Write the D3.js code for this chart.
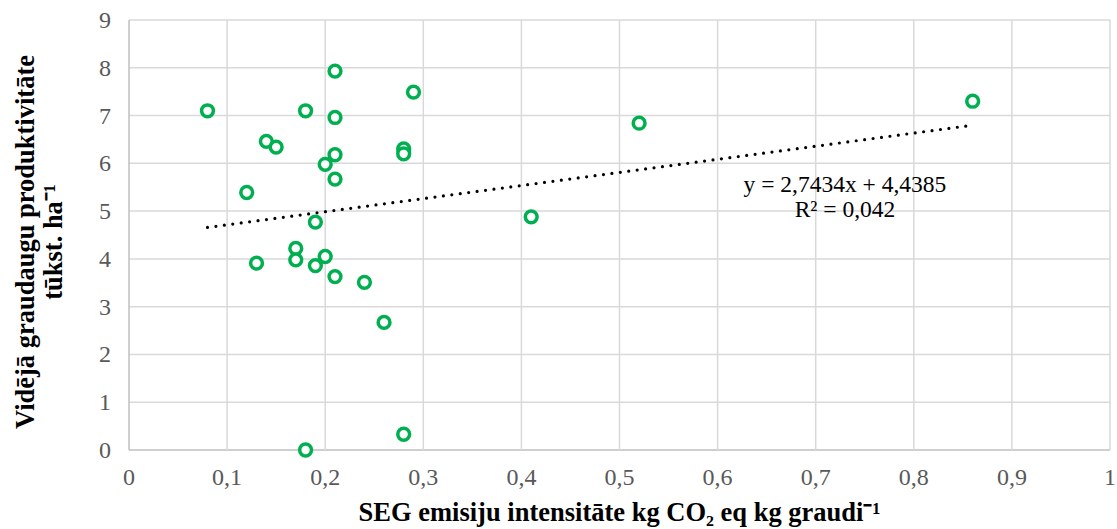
<!DOCTYPE html>
<html>
<head>
<meta charset="utf-8">
<script src="https://cdn.jsdelivr.net/npm/d3@7"></script>
<style>
  body { margin: 0; background: #fff; }
  svg { display: block; font-family: "Liberation Serif", "Times New Roman", serif; }
</style>
</head>
<body>
<svg id="chart" width="1117" height="529"></svg>
<script>
// emission intensity (kg CO2 eq / kg grain)
var xValues = [0.08, 0.12, 0.13, 0.14, 0.15, 0.17, 0.17, 0.18, 0.18, 0.19, 0.19, 0.20, 0.20,
               0.21, 0.21, 0.21, 0.21, 0.21, 0.24, 0.26, 0.28, 0.28, 0.28, 0.29, 0.41, 0.52, 0.86];
// average grain yield (thousand t / ha)
var yValues = [7.10, 5.39, 3.91, 6.46, 6.34, 4.22, 3.98, 7.10, 0.00, 4.77, 3.86, 5.98, 4.05,
               7.93, 6.96, 6.18, 5.67, 3.63, 3.51, 2.67, 6.30, 6.20, 0.33, 7.49, 4.88, 6.84, 7.30];

var xTicks = [0, 0.1, 0.2, 0.3, 0.4, 0.5, 0.6, 0.7, 0.8, 0.9, 1];
var yTicks = [0, 1, 2, 3, 4, 5, 6, 7, 8, 9];

// linear trendline as printed on the chart
var trendSlope = 2.7434;
var trendIntercept = 4.4385;
var trendLabel = ["y = 2,7434x + 4,4385", "R² = 0,042"];

var svg = d3.select("#chart");
var margin = {left: 129, right: 7, top: 20, bottom: 79};
var width = 1117 - margin.left - margin.right,
    height = 529 - margin.top - margin.bottom;

var x = d3.scaleLinear().domain([0, 1]).range([margin.left, margin.left + width]);
var y = d3.scaleLinear().domain([0, 9]).range([margin.top + height, margin.top]);

var fmt = function (d) { return String(d).replace(".", ","); };

// grid
svg.append("g").selectAll("line").data(yTicks).enter().append("line")
    .attr("x1", x(0)).attr("x2", x(1))
    .attr("y1", function (d) { return y(d); }).attr("y2", function (d) { return y(d); })
    .attr("stroke", function (d) { return d === 0 ? "#bfbfbf" : "#d9d9d9"; })
    .attr("stroke-width", 1.5);

svg.append("g").selectAll("line").data(xTicks).enter().append("line")
    .attr("y1", y(0)).attr("y2", y(9))
    .attr("x1", function (d) { return x(d); }).attr("x2", function (d) { return x(d); })
    .attr("stroke", function (d) { return d === 0 ? "#bfbfbf" : "#d9d9d9"; })
    .attr("stroke-width", 1.5);

// tick labels
svg.append("g").selectAll("text").data(xTicks).enter().append("text")
    .attr("x", function (d) { return x(d); })
    .attr("y", y(0) + 35)
    .attr("text-anchor", "middle")
    .attr("fill", "#595959")
    .style("font-size", "24px")
    .text(fmt);

svg.append("g").selectAll("text").data(yTicks).enter().append("text")
    .attr("x", x(0) - 18)
    .attr("y", function (d) { return y(d) + 8; })
    .attr("text-anchor", "end")
    .attr("fill", "#595959")
    .style("font-size", "24px")
    .text(fmt);

// trendline
var trendX = [d3.min(xValues), d3.max(xValues)];
svg.append("line")
    .attr("x1", x(trendX[0])).attr("y1", y(trendSlope * trendX[0] + trendIntercept))
    .attr("x2", x(trendX[1])).attr("y2", y(trendSlope * trendX[1] + trendIntercept))
    .attr("stroke", "#000")
    .attr("stroke-width", 3.2)
    .attr("stroke-linecap", "round")
    .attr("stroke-dasharray", "0 8.5");

// points
var points = xValues.map(function (d, i) { return {x: d, y: yValues[i]}; });
svg.append("g").selectAll("circle").data(points).enter().append("circle")
    .attr("cx", function (d) { return x(d.x); })
    .attr("cy", function (d) { return y(d.y); })
    .attr("r", 5.9)
    .attr("fill", "#fff")
    .attr("stroke", "#00b050")
    .attr("stroke-width", 3.5);

// equation label
svg.append("text")
    .attr("x", 845).attr("y", 192)
    .attr("text-anchor", "middle")
    .style("font-size", "23.5px")
    .text(trendLabel[0]);
svg.append("text")
    .attr("x", 845).attr("y", 217)
    .attr("text-anchor", "middle")
    .style("font-size", "23.5px")
    .text(trendLabel[1]);

// axis titles
svg.append("text")
    .attr("x", x(0.5)).attr("y", 521)
    .attr("text-anchor", "middle")
    .style("font-size", "26.5px")
    .style("font-weight", "bold")
    .text("SEG emisiju intensitāte kg CO₂ eq kg graudi⁻¹");

var yTitle = svg.append("text")
    .attr("transform", "translate(0,242) rotate(-90)")
    .attr("text-anchor", "middle")
    .style("font-size", "26.5px")
    .style("font-weight", "bold");
yTitle.append("tspan").attr("x", 0).attr("y", 34).text("Vidējā graudaugu produktivitāte");
yTitle.append("tspan").attr("x", 0).attr("y", 62).text("tūkst. ha⁻¹");
</script>
</body>
</html>
